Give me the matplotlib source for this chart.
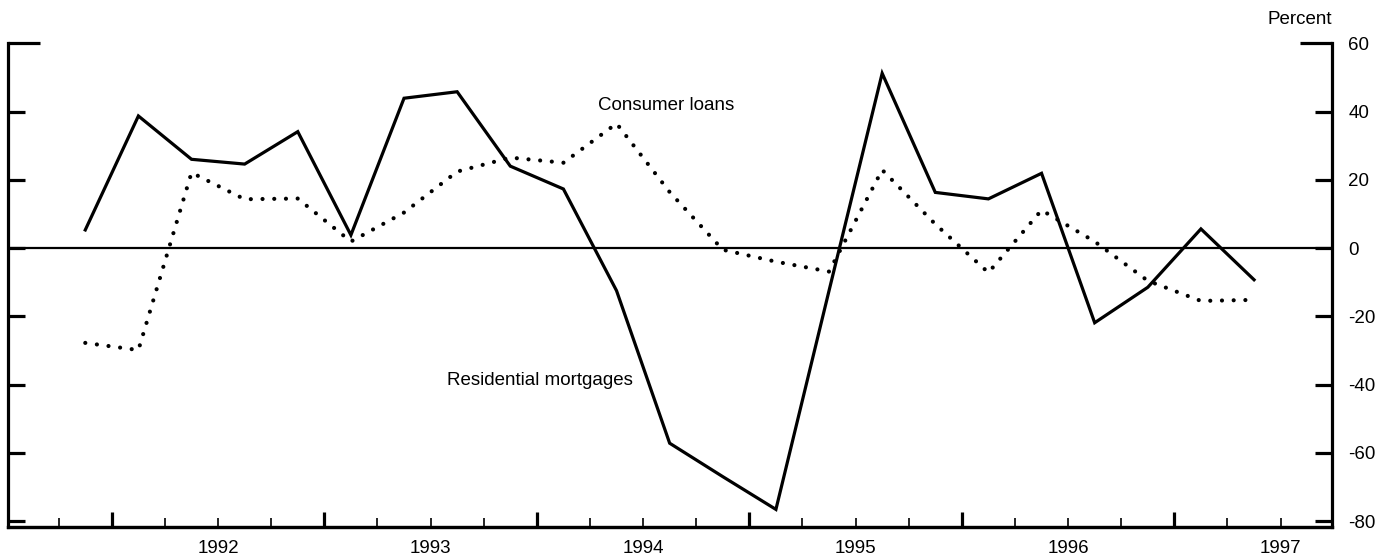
import matplotlib
matplotlib.use("Agg")
import matplotlib.pyplot as plt
import numpy as np

plt.rcParams['font.family'] = ['Liberation Sans', 'DejaVu Sans']
plt.rcParams['axes.unicode_minus'] = False

# Quarterly data, 1991 Q4 through 1997 Q2 (annualized percent change)
quarters = ["1991Q4", "1992Q1", "1992Q2", "1992Q3", "1992Q4",
            "1993Q1", "1993Q2", "1993Q3", "1993Q4",
            "1994Q1", "1994Q2", "1994Q3", "1994Q4",
            "1995Q1", "1995Q2", "1995Q3", "1995Q4",
            "1996Q1", "1996Q2", "1996Q3", "1996Q4",
            "1997Q1", "1997Q2"]
residential_mortgages = [5.3, 38.7, 26.0, 24.6, 34.1, 3.8, 43.9, 45.8, 24.0, 17.3,
                         -12.5, -57.2, -67.0, -76.6, -12.5, 51.2, 16.3, 14.4, 21.9,
                         -21.9, -11.5, 5.6, -9.3]
consumer_loans = [-27.8, -29.9, 22.1, 14.3, 14.5, 1.9, 10.4, 22.4, 26.5, 25.0,
                  36.5, 16.4, -0.5, -4.0, -6.9, 22.9, 7.0, -7.2, 11.1,
                  1.9, -9.6, -15.5, -15.2]
year_labels = ["1992", "1993", "1994", "1995", "1996", "1997"]
y_ticks = [-80, -60, -40, -20, 0, 20, 40, 60]

def qpos(q):
    return int(q[:4]) + (int(q[5]) - 1) * 0.25 + 0.125

x = np.array([qpos(q) for q in quarters])
years = np.array([int(y) for y in year_labels])

fig = plt.figure(figsize=(13.9, 5.6), dpi=100)
ax = fig.add_axes([0.006, 0.0589, 0.952, 0.8638])

ax.set_xlim(1991.513, 1997.74)
ax.set_ylim(-81.76, 60)

ax.axhline(0, color='black', lw=1.6, zorder=1)
ax.plot(x, residential_mortgages, color='black', lw=2.3, solid_joinstyle='miter', zorder=3)
ax.plot(x, consumer_loans, color='black', lw=3.0, linestyle=(0, (0.01, 2.8)),
        dash_capstyle='round', zorder=2)

ax.spines['top'].set_visible(False)
for s in ['left', 'right', 'bottom']:
    ax.spines[s].set_linewidth(2.3)

# y axis: ticks both sides, labels on right
ax.set_yticks(y_ticks)
ax.yaxis.set_tick_params(which='major', direction='in', length=12, width=2.3,
                         left=True, right=True, labelleft=False, labelright=True,
                         pad=12, labelsize=13.5)
for t, v in zip(ax.yaxis.get_major_ticks(), y_ticks):
    if v == 60:
        t.tick1line.set_markersize(23)
        t.tick2line.set_markersize(23)

# x axis: labels at mid-year, quarter minor ticks
ax.set_xticks(years + 0.5)
ax.set_xticklabels(year_labels)
ax.set_xticks(np.arange(1991.75, 1997.6, 0.25), minor=True)
ax.xaxis.set_tick_params(which='major', direction='in', length=6.5, width=1.2,
                         pad=9, labelsize=13.5)
ax.xaxis.set_tick_params(which='minor', direction='in', length=6.5, width=1.2)

sec = ax.secondary_xaxis('bottom')
sec.set_xticks(years)
sec.tick_params(direction='in', length=11, width=2.3, labelbottom=False)
sec.spines['bottom'].set_linewidth(2.3)

ax.text(1994.288, 41.9, "Consumer loans", ha='left', va='center', fontsize=13.5)
ax.text(1993.576, -38.7, "Residential mortgages", ha='left', va='center', fontsize=13.5)

fig.text(0.958, 1 - 24 / 560, "Percent", ha='right', va='baseline', fontsize=13.5)

fig.savefig("out.png", dpi=100)
